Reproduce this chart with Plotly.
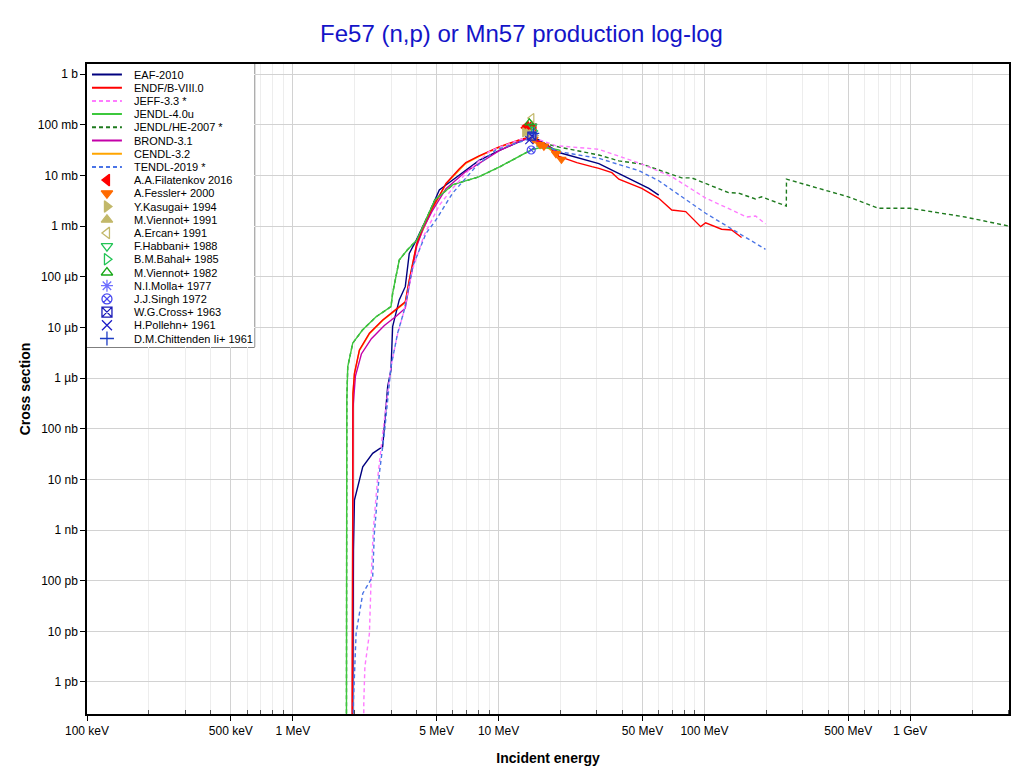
import plotly.graph_objects as go

# ---------------- data: energy in MeV, cross section in barns ----------------
eaf_e = [1.95, 1.955, 1.97, 1.993, 2.187, 2.444, 2.733, 2.785, 2.89, 3.0, 3.055, 3.29, 3.52, 3.68, 4.0,
         4.6, 5.15, 5.55, 6.43, 7.19, 8.04, 10.06, 12.57, 14.06, 15.72, 19.65, 30.7, 35.5, 53.7, 60.0]
eaf_s = [1e-14, 4.2e-11, 4.0e-10, 3.9e-9, 1.78e-8, 3.28e-8, 4.43e-8, 1.1e-7, 6.8e-7, 1.45e-6, 1.04e-5, 3.5e-5,
         6.4e-5, 2.9e-4, 5.5e-4, 1.8e-3, 5.2e-3, 6.5e-3, 1.03e-2, 1.4e-2, 2.0e-2, 3.1e-2, 4.67e-2, 5.7e-2,
         5.05e-2, 2.85e-2, 1.72e-2, 1.29e-2, 5.6e-3, 4.1e-3]

endf_e = [1.943, 1.946, 1.952, 1.96, 1.993, 2.107, 2.356, 2.733, 3.0, 3.3, 3.52, 3.68, 4.0, 4.3, 4.76, 5.15,
          5.55, 6.43, 6.93, 8.04, 10.06, 12.57, 14.06, 15.7, 17.57, 19.65, 24.0, 28.4, 30.7, 35.5, 38.4, 49.6,
          60.0, 69.4, 75.0, 81.1, 95.9, 101.4, 121.2, 135.6, 151.6]
endf_s = [1e-14, 1e-9, 1.5e-7, 5e-7, 1.25e-6, 3.6e-6, 7.7e-6, 1.41e-5, 1.9e-5, 2.6e-5, 3.2e-5, 8.7e-5, 4.5e-4,
          1.0e-3, 2.3e-3, 4.0e-3, 7.0e-3, 1.35e-2, 1.8e-2, 2.45e-2, 3.7e-2, 5.05e-2, 5.7e-2, 4.8e-2, 3.7e-2,
          2.4e-2, 1.8e-2, 1.5e-2, 1.39e-2, 1.14e-2, 8.45e-3, 5.6e-3, 3.56e-3, 2.09e-3, 2.02e-3, 1.94e-3,
          9.8e-4, 1.17e-3, 8.7e-4, 8.4e-4, 6.0e-4]

jeff_e = [2.21, 2.213, 2.24, 2.356, 2.40, 2.46, 2.58, 2.733, 3.0, 3.22, 3.48, 3.81, 4.35, 5.15, 6.0, 7.19,
          8.99, 10.06, 12.57, 14.06, 16.5, 18.9, 30.7, 49.6, 69.4, 101.4, 135.6, 160.3, 177.3, 198.2]
jeff_s = [1e-14, 4e-13, 2e-12, 9e-12, 1e-10, 1e-9, 1e-8, 8e-8, 1.7e-6, 7.1e-6, 2.2e-5, 1.37e-4, 6.7e-4,
          2.6e-3, 5.7e-3, 1.29e-2, 2.96e-2, 3.6e-2, 5.05e-2, 5.8e-2, 4.8e-2, 3.9e-2, 3.3e-2, 1.69e-2,
          9.5e-3, 3.6e-3, 2.09e-3, 1.52e-3, 1.59e-3, 1.11e-3]

jendl4_e = [1.821, 1.823, 1.83, 1.849, 1.955, 2.18, 2.54, 3.0, 3.055, 3.29, 3.6, 4.0, 4.6, 4.9, 6.0, 8.0,
            10.1, 12.5, 14.4, 15.6, 17.5, 19.6, 20.0]
jendl4_s = [1e-14, 1e-9, 3.7e-7, 1.68e-6, 4.9e-6, 8.9e-6, 1.63e-5, 2.58e-5, 4.7e-5, 2.15e-4, 3.4e-4, 5.3e-4,
            1.8e-3, 3.3e-3, 6.6e-3, 9.4e-3, 1.48e-2, 2.3e-2, 3.2e-2, 3.5e-2, 3.5e-2, 3.2e-2, 3.1e-2]

jendlhe_e = [1.821, 1.823, 1.83, 1.849, 1.955, 2.18, 2.54, 3.0, 3.055, 3.29, 3.6, 4.0, 4.6, 4.9, 6.0, 8.0,
             10.1, 12.5, 14.4, 15.6, 17.5, 20.0, 30.7, 38.4, 49.6, 77.6, 86.7, 131.0, 146.6, 177.0, 189.5,
             250.0, 250.5, 500.0, 700.0, 1000.0, 1848.0, 3000.0]
jendlhe_s = [1e-14, 1e-9, 3.7e-7, 1.68e-6, 4.9e-6, 8.9e-6, 1.63e-5, 2.58e-5, 4.7e-5, 2.15e-4, 3.4e-4, 5.3e-4,
             1.8e-3, 3.3e-3, 6.6e-3, 9.4e-3, 1.48e-2, 2.3e-2, 3.2e-2, 4.0e-2, 4.1e-2, 3.6e-2, 2.55e-2,
             1.95e-2, 1.69e-2, 9.0e-3, 9.0e-3, 4.6e-3, 4.5e-3, 3.45e-3, 3.8e-3, 2.5e-3, 8.5e-3, 3.8e-3,
             2.26e-3, 2.26e-3, 1.52e-3, 1.01e-3]

brond_e = [1.943, 1.946, 1.952, 1.96, 2.015, 2.154, 2.409, 2.785, 3.2, 3.52, 3.68, 4.0, 4.3, 4.76, 5.55,
           6.93, 8.67, 10.06, 12.57, 14.06, 15.7, 17.57, 19.65, 20.0]
brond_s = [1e-14, 1e-10, 5e-8, 2.5e-7, 1.1e-6, 3.0e-6, 6.0e-6, 1.1e-5, 1.7e-5, 2.4e-5, 6.9e-5, 4.0e-4, 9e-4,
           2.0e-3, 5.5e-3, 1.2e-2, 2.1e-2, 3.1e-2, 4.7e-2, 5.5e-2, 4.6e-2, 3.7e-2, 2.9e-2, 2.8e-2]

cendl_e = [1.943, 1.946, 1.952, 1.96, 1.993, 2.107, 2.356, 2.733, 3.0, 3.52, 3.68, 4.0, 4.76, 5.55, 6.93,
           8.04, 10.06, 12.57, 14.06, 15.7, 17.57, 20.0]
cendl_s = [1e-14, 1e-9, 1.4e-7, 4.8e-7, 1.2e-6, 3.5e-6, 7.5e-6, 1.38e-5, 1.85e-5, 3.1e-5, 8.3e-5, 4.4e-4,
           2.2e-3, 6.8e-3, 1.75e-2, 2.4e-2, 3.6e-2, 5.0e-2, 5.8e-2, 4.5e-2, 3.4e-2, 2.2e-2]

tendl_e = [1.96, 1.97, 2.03, 2.187, 2.444, 2.49, 2.634, 2.785, 3.0, 3.23, 3.48, 3.82, 4.44, 4.96, 5.97, 7.75,
           9.69, 12.57, 14.06, 16.5, 19.65, 30.7, 48.0, 60.0, 101.4, 198.0]
tendl_s = [1e-14, 4e-13, 9.1e-12, 5.6e-11, 1.2e-10, 8.6e-10, 1.32e-8, 8.1e-8, 1.68e-6, 7.7e-6, 2.2e-5,
           1.59e-4, 7.2e-4, 1.33e-3, 4.47e-3, 1.5e-2, 3.2e-2, 4.6e-2, 5.3e-2, 4.0e-2, 2.96e-2, 2.19e-2,
           1.25e-2, 7.9e-3, 1.8e-3, 3.5e-4]

# experimental points
filat_e = [13.47, 13.64, 13.88, 14.05, 14.28, 14.47, 14.68, 14.86]
filat_s = [0.088, 0.095, 0.085, 0.092, 0.083, 0.090, 0.081, 0.086]
fess_e = [14.8, 15.9, 16.6, 19.0, 20.2]
fess_s = [0.052, 0.041, 0.038, 0.027, 0.021]
kas_e = [13.4, 13.9, 14.4, 14.9]
kas_s = [0.071, 0.068, 0.065, 0.062]
vie91_e = [14.6]
vie91_s = [0.072]
erc_e = [14.5]
erc_s = [0.137]
hab_e = [14.6]
hab_s = [0.095]
bah_e = [14.8]
bah_s = [0.076]
vie82_e = [14.1]
vie82_s = [0.11]
mol_e = [14.7]
mol_s = [0.064]
sin_e = [14.4]
sin_s = [0.032]
cro_e = [14.5]
cro_s = [0.060]
pol_e = [14.1]
pol_s = [0.050]
chi_e = [14.8]
chi_s = [0.068]

x_tickvals = [0.1, 0.5, 1, 5, 10, 50, 100, 500, 1000]
x_ticktext = ["100 keV", "500 keV", "1 MeV", "5 MeV", "10 MeV", "50 MeV", "100 MeV", "500 MeV", "1 GeV"]
y_tickvals = [1e0, 1e-1, 1e-2, 1e-3, 1e-4, 1e-5, 1e-6, 1e-7, 1e-8, 1e-9, 1e-10, 1e-11, 1e-12]
y_ticktext = ["1 b", "100 mb", "10 mb", "1 mb", "100 \u00b5b", "10 \u00b5b", "1 \u00b5b", "100 nb", "10 nb",
              "1 nb", "100 pb", "10 pb", "1 pb"]
x_minor = [m * d for d in [0.1, 1, 10, 100, 1000] for m in [2, 3, 4, 6, 7, 8, 9] if m * d <= 3000]

# ---------------- styles ----------------
lines = [  # legend order
    ("EAF-2010", eaf_e, eaf_s, "#00007F", "solid"),
    ("ENDF/B-VIII.0", endf_e, endf_s, "#FF0000", "solid"),
    ("JEFF-3.3 *", jeff_e, jeff_s, "#FF7BFF", "4px,3px"),
    ("JENDL-4.0u", jendl4_e, jendl4_s, "#3CC83C", "solid"),
    ("JENDL/HE-2007 *", jendlhe_e, jendlhe_s, "#1E7A1E", "4px,3px"),
    ("BROND-3.1", brond_e, brond_s, "#C400A8", "solid"),
    ("CENDL-3.2", cendl_e, cendl_s, "#FFA500", "solid"),
    ("TENDL-2019 *", tendl_e, tendl_s, "#4A74E6", "4px,3px"),
]
draw_order = [6, 4, 0, 5, 1, 3, 2, 7]

markers = [
    ("A.A.Filatenkov 2016", filat_e, filat_s, "triangle-left", "#FF0000"),
    ("A.Fessler+ 2000", fess_e, fess_s, "triangle-down", "#FF6A00"),
    ("Y.Kasugai+ 1994", kas_e, kas_s, "triangle-right", "#C2B86A"),
    ("M.Viennot+ 1991", vie91_e, vie91_s, "triangle-up", "#C2B86A"),
    ("A.Ercan+ 1991", erc_e, erc_s, "triangle-left-open", "#C2B86A"),
    ("F.Habbani+ 1988", hab_e, hab_s, "triangle-down-open", "#22C455"),
    ("B.M.Bahal+ 1985", bah_e, bah_s, "triangle-right-open", "#22C455"),
    ("M.Viennot+ 1982", vie82_e, vie82_s, "triangle-up-open", "#18A818"),
    ("N.I.Molla+ 1977", mol_e, mol_s, "asterisk-open", "#6E6EFF"),
    ("J.J.Singh 1972", sin_e, sin_s, "circle-x-open", "#4A4AF0"),
    ("W.G.Cross+ 1963", cro_e, cro_s, "square-x-open", "#1C1CB8"),
    ("H.Pollehn+ 1961", pol_e, pol_s, "x-thin-open", "#2020C8"),
    ("D.M.Chittenden Ii+ 1961", chi_e, chi_s, "cross-thin-open", "#1C3CC4"),
]

fig = go.Figure()

for i in draw_order:
    name, xe, ys, col, dash = lines[i]
    fig.add_trace(go.Scatter(x=xe, y=ys, mode="lines", name=name, showlegend=False,
                             line=dict(color=col, width=1.4, dash=dash)))

for name, xe, ys, sym, col in markers:
    fig.add_trace(go.Scatter(x=xe, y=ys, mode="markers", name=name, showlegend=False,
                             marker=dict(symbol=sym, color=col, size=8, line=dict(color=col, width=1.2))))

# ---------------- custom legend (inset axes in pixel-like units) ----------------
row_h = 13.2
row0 = 10.5
legend_names = [l[0] for l in lines] + [m[0] for m in markers]
for k, (name, xe, ys, col, dash) in enumerate(lines):
    yk = row0 + row_h * k
    fig.add_trace(go.Scatter(x=[5, 35], y=[yk, yk], mode="lines", xaxis="x2", yaxis="y2", showlegend=False,
                             hoverinfo="skip", line=dict(color=col, width=2, dash=dash)))
for j, (name, xe, ys, sym, col) in enumerate(markers):
    yk = row0 + row_h * (len(lines) + j)
    fig.add_trace(go.Scatter(x=[20], y=[yk], mode="markers", xaxis="x2", yaxis="y2", showlegend=False,
                             hoverinfo="skip",
                             marker=dict(symbol=sym, color=col, size=10, line=dict(color=col, width=1.3))))
for k, name in enumerate(legend_names):
    fig.add_annotation(x=45, y=row0 + row_h * k, xref="x2", yref="y2", text=name, showarrow=False,
                       xanchor="left", yanchor="middle",
                       font=dict(family="Liberation Sans, Arial", size=11, color="#000000"))

fig.add_shape(type="rect", xref="x2 domain", yref="y2 domain", x0=0, x1=1, y0=0, y1=1,
              fillcolor="white", line=dict(color="#000000", width=1), layer="below")

axis_font = dict(family="Liberation Sans, Arial", size=12, color="#000000")

W, H = 1004, 758
fig.update_layout(
    width=W, height=H,
    margin=dict(l=79, r=1, t=56, b=52),
    paper_bgcolor="white", plot_bgcolor="white",
    showlegend=False,
    title=dict(text="Fe57 (n,p) or Mn57 production log-log", x=513.5 / W, xref="container", xanchor="center",
               y=1 - 26 / H, yref="container", yanchor="middle",
               font=dict(family="Liberation Sans, Arial", size=24, color="#1414C8")),
    xaxis=dict(type="log", range=[-1, 3.48], tickvals=x_tickvals, ticktext=x_ticktext,
               ticks="outside", ticklen=5, tickcolor="#000000", tickfont=axis_font,
               showgrid=True, gridcolor="#D2D2D2", gridwidth=1,
               minor=dict(tickvals=x_minor, ticks="inside", ticklen=4, tickcolor="#555555",
                          showgrid=True, gridcolor="#EDEDED", gridwidth=1),
               showline=True, linecolor="#000000", linewidth=1.5, mirror=True, zeroline=False,
               title=dict(text="<b>Incident energy</b>", standoff=16,
                          font=dict(family="Liberation Sans, Arial", size=14, color="#000000"))),
    yaxis=dict(type="log", range=[-12.632, 0.203], tickvals=y_tickvals, ticktext=y_ticktext,
               ticks="outside", ticklen=5, tickcolor="#000000", tickfont=axis_font,
               showgrid=True, gridcolor="#D2D2D2", gridwidth=1,
               showline=True, linecolor="#000000", linewidth=1.5, mirror=True, zeroline=False,
               title=dict(text="<b>Cross section</b>", standoff=4,
                          font=dict(family="Liberation Sans, Arial", size=14, color="#000000"))),
    xaxis2=dict(domain=[0, 168 / 924], range=[0, 168], visible=False, anchor="y2", fixedrange=True),
    yaxis2=dict(domain=[1 - 283 / 650, 1], range=[283, 0], visible=False, anchor="x2", fixedrange=True),
)

fig.write_html("out.html")
